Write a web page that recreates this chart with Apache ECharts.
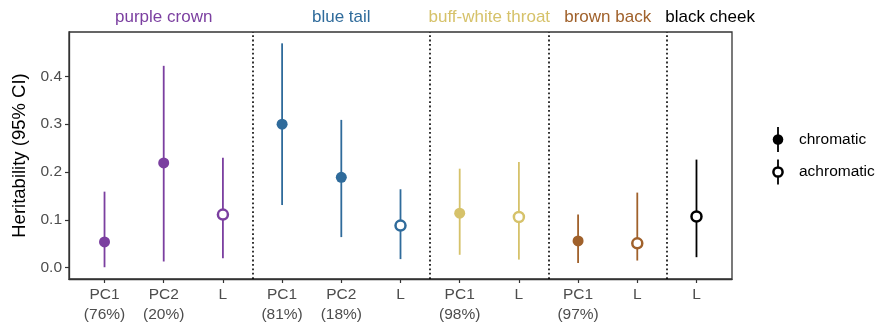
<!DOCTYPE html>
<html><head><meta charset="utf-8">
<script src="https://cdn.jsdelivr.net/npm/echarts@6/dist/echarts.min.js"></script>
<style>html,body{margin:0;padding:0;background:#fff}#c{width:877px;height:326px}</style>
</head><body><div id="c"></div>
<script>
const categories = ['PC1\n(76%)','PC2\n(20%)','L','PC1\n(81%)','PC2\n(18%)','L','PC1\n(98%)','L','PC1\n(97%)','L','L'];
const groups = [0,0,0,1,1,1,2,2,3,3,4];
const groupNames = ['purple crown','blue tail','buff-white throat','brown back','black cheek'];
const groupColors = ['#7B3FA0','#2F6B9B','#D6C26A','#A0612B','#000000'];
const types = ['chromatic','chromatic','achromatic','chromatic','chromatic','achromatic','chromatic','achromatic','chromatic','achromatic','achromatic'];
const estimates = [0.054,0.219,0.111,0.300,0.189,0.088,0.114,0.106,0.056,0.051,0.107];
const lower = [0.001,0.013,0.020,0.131,0.064,0.018,0.027,0.017,0.010,0.015,0.022];
const upper = [0.159,0.422,0.230,0.469,0.309,0.164,0.207,0.221,0.111,0.157,0.226];
const yTicks = [0,0.1,0.2,0.3,0.4];
const legendNames = ['chromatic','achromatic'];

const FONT = "'Liberation Sans', Arial, sans-serif";
const xs = categories.map((c,i)=>i+1);
const seps = [];
for (let i=1;i<groups.length;i++) if (groups[i]!==groups[i-1]) seps.push(i+0.5);

const barData = xs.map((x,i)=>({value:[x,lower[i],upper[i]], itemStyle:{color:groupColors[groups[i]]}}));
const chromData = [], achromData = [];
xs.forEach((x,i)=>{
  const c = groupColors[groups[i]];
  if (types[i]==='chromatic') chromData.push({value:[x,estimates[i]], itemStyle:{color:c, opacity:1}});
  else achromData.push({value:[x,estimates[i]], itemStyle:{color:'#fff', borderColor:c, borderWidth:2.5, opacity:1}});
});

const chart = echarts.init(document.getElementById('c'), null, {renderer:'canvas'});
chart.setOption({
  animation:false,
  backgroundColor:'#fff',
  grid:{left:69, right:145, top:32, bottom:47, containLabel:false, outerBoundsMode:'none',
    show:true, borderColor:'#333', borderWidth:1.3, backgroundColor:'transparent'},
  xAxis:{type:'value', min:0.4, max:11.6,
    splitLine:{show:false},
    axisLine:{show:true, onZero:false, lineStyle:{color:'#333', width:1.3}},
    axisTick:{show:true, customValues:xs, length:4, lineStyle:{color:'#333', width:1.2}},
    axisLabel:{customValues:xs, margin:6, color:'#4d4d4d', fontSize:15.5, fontFamily:FONT, lineHeight:20,
      formatter:v=>categories[Math.round(v)-1] || ''}
  },
  yAxis:{type:'value', min:-0.0236, max:0.4927,
    name:'Heritability (95% CI)', nameLocation:'middle', nameGap:40,
    nameTextStyle:{color:'#000', fontSize:18.5, fontFamily:FONT},
    splitLine:{show:false},
    axisLine:{show:true, onZero:false, lineStyle:{color:'#333', width:1.3}},
    axisTick:{show:true, customValues:yTicks, length:4, lineStyle:{color:'#333', width:1.2}},
    axisLabel:{customValues:yTicks, margin:7, color:'#4d4d4d', fontSize:15.5, fontFamily:FONT,
      formatter:v=>v.toFixed(1)}
  },
  series:[
    {type:'custom', name:'ci', data:barData, z:2,
      renderItem:(params, api)=>{
        const x=api.value(0), lo=api.value(1), hi=api.value(2);
        const p1=api.coord([x,lo]), p2=api.coord([x,hi]);
        return {type:'line', shape:{x1:p1[0],y1:p1[1],x2:p2[0],y2:p2[1]}, style:{stroke:api.visual('color'), lineWidth:1.8, opacity:1}};
      },
      markLine:{silent:true, symbol:'none', label:{show:false},
        lineStyle:{color:'#000', type:[1.8,2.6], width:1.6, opacity:1},
        data:seps.map(s=>({xAxis:s}))}
    },
    {type:'scatter', name:legendNames[0], data:chromData, symbol:'circle', symbolSize:11, z:3, itemStyle:{opacity:1}},
    {type:'scatter', name:legendNames[1], data:achromData, symbol:'circle', symbolSize:10, z:3, itemStyle:{opacity:1}}
  ]
});

// group headers and legend
const headerX = groupNames.map((g,gi)=>{
  const idx = groups.map((v,i)=>v===gi?i+1:null).filter(v=>v!==null);
  return (Math.min(...idx)+Math.max(...idx))/2;
});
headerX[4] = headerX[4] + 0.23;
const gfx = [];
groupNames.forEach((g,gi)=>{
  const px = chart.convertToPixel({gridIndex:0},[headerX[gi],0])[0];
  gfx.push({type:'text', x:px, y:17, style:{text:g, fill:groupColors[gi], font:'17px '+FONT, textAlign:'center', textVerticalAlign:'middle'}});
});
const legY = [139.5, 172];
legendNames.forEach((n,i)=>{
  gfx.push({type:'line', shape:{x1:778,y1:legY[i]-12.5,x2:778,y2:legY[i]+12.5}, style:{stroke:'#000', lineWidth:1.8}});
  if (i===0) gfx.push({type:'circle', shape:{cx:778,cy:legY[i],r:5.3}, style:{fill:'#000'}});
  else gfx.push({type:'circle', shape:{cx:778,cy:legY[i],r:4.6}, style:{fill:'#fff', stroke:'#000', lineWidth:2.5}});
  gfx.push({type:'text', x:799, y:legY[i], style:{text:n, fill:'#000', font:'15.5px '+FONT, textVerticalAlign:'middle'}});
});
chart.setOption({graphic:gfx});
</script>
</body></html>
